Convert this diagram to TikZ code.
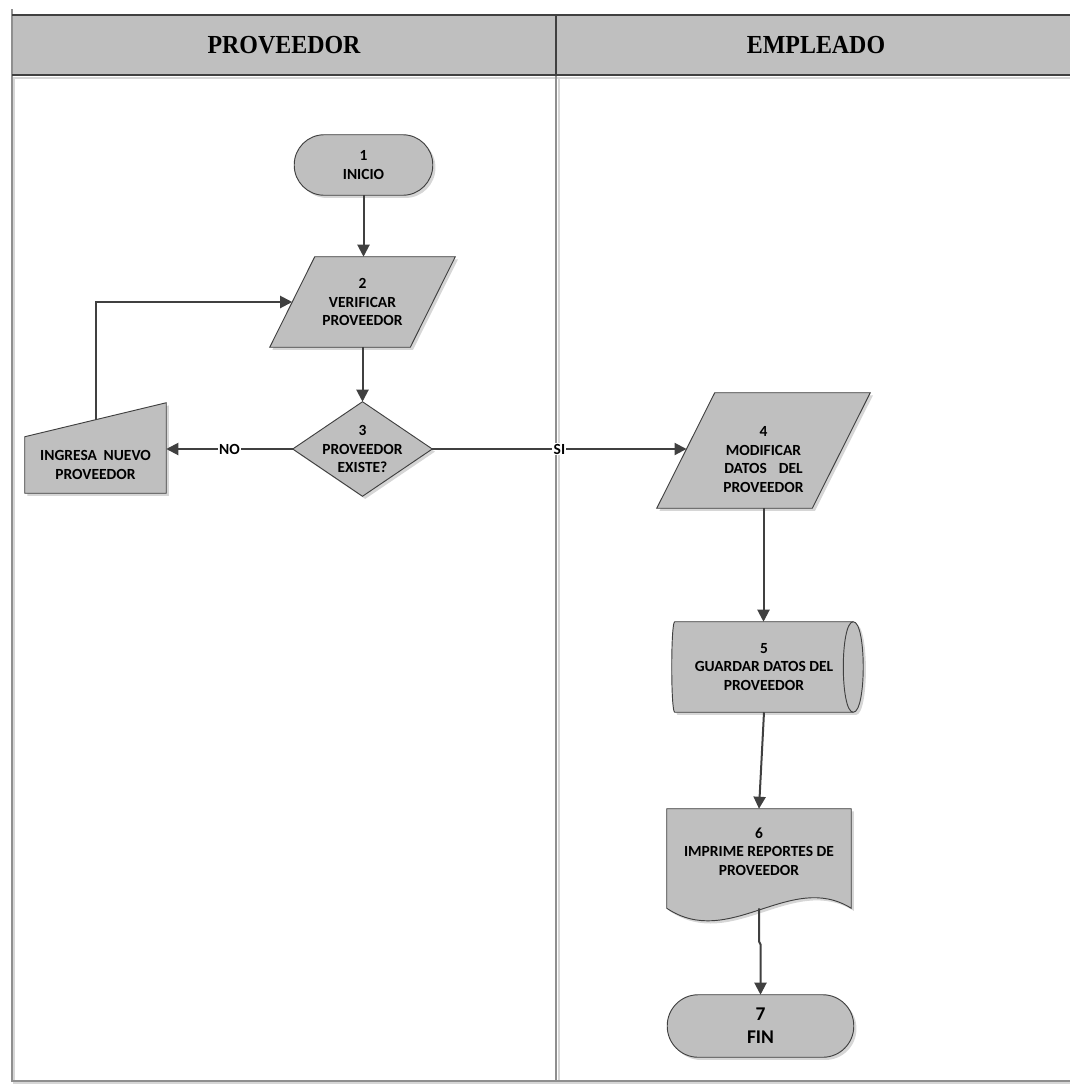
\documentclass[tikz,border=0pt]{standalone}
\usepackage{fontspec}
\setmainfont{Carlito}
\newfontfamily\headfont[FakeStretch=0.92]{Liberation Serif}
\usetikzlibrary{arrows.meta,calc,shadows}

\definecolor{shapefill}{HTML}{BFBFBF}
\definecolor{edge}{HTML}{404040}
\definecolor{dropgray}{HTML}{D6D6D6}
\definecolor{rule}{HTML}{8F8F8F}

\pgfdeclarelayer{shapes}
\pgfsetlayers{shapes,main}

% one drawing unit = one pixel of the 1070 x 1090 sheet
\newcommand\pu{0.75pt}

\begin{document}
\begin{tikzpicture}[x=0.75pt, y=-0.75pt,
  box/.style={inner sep=0pt, align=center, text=black,
    font=\fontsize{11.6}{13.9}\selectfont\bfseries},
  bigbox/.style={box, font=\fontsize{14.6}{17.3}\selectfont\bfseries},
  outline/.style={fill=shapefill, draw=edge, line width=0.7pt,
    drop shadow={shadow xshift=2pt, shadow yshift=-2pt, opacity=1, fill=dropgray}},
  flow/.style={draw=edge, line width=1.5pt, -{Triangle[length=9pt,width=9pt]}},
  tag/.style={fill=white, inner sep=1pt, text=black,
    font=\fontsize{11.6}{13.9}\selectfont\bfseries},
  lanehead/.style={text=black, font=\headfont\fontsize{19.5}{23}\selectfont\bfseries}
]
\useasboundingbox (0,0) rectangle (1070,1090);

% ---- swimlane frame ----
\begin{pgfonlayer}{shapes}
\fill[shapefill] (12,15) rectangle (1075,75);
\draw[dropgray, line width=1.5pt] (12,77.5) -- (1075,77.5);
\draw[dropgray, line width=1.5pt] (558.5,77) -- (558.5,1083);
\draw[dropgray, line width=1.5pt] (14,77) -- (14,1083) -- (1075,1083);
\draw[rule, line width=1.5pt] (556,75) -- (556,1081);
\draw[rule, line width=1.5pt] (12,9) -- (12,1081) -- (1075,1081);
\draw[edge, line width=1.5pt] (12,15) -- (1075,15);
\draw[edge, line width=1.5pt] (12,75) -- (1075,75);
\draw[edge, line width=1pt] (556,15) -- (556,75);
\end{pgfonlayer}

\node[lanehead] (laneA) at (284,45) {PROVEEDOR};
\node[lanehead] (laneB) at (816,45) {EMPLEADO};

% ---- nodes (bounding boxes carry the text) ----
\node[box, minimum width=138*\pu, minimum height=60*\pu] (n1) at (363.5,165) {1\\INICIO};
\node[box, minimum width=185*\pu, minimum height=90*\pu] (n2) at (362.5,302) {2\\VERIFICAR\\PROVEEDOR};
\node[box, minimum width=139*\pu, minimum height=94*\pu] (n3) at (362.5,449) {3\\PROVEEDOR\\EXISTE?};
\node[box, minimum width=141*\pu, minimum height=56*\pu] (n5) at (95.5,465) {INGRESA\hspace{5pt}NUEVO\\PROVEEDOR};
\node[minimum width=213*\pu, minimum height=115*\pu, inner sep=0pt,
  label={[box, yshift=-6.75pt]center:{4\\MODIFICAR\\DATOS\hspace{9pt}DEL\\PROVEEDOR}}] (n4) at (763.5,450.5) {};
\node[box, minimum width=178*\pu, minimum height=90*\pu] (ns) at (764,667) {5\\GUARDAR DATOS DEL\\PROVEEDOR};
\node[minimum width=184*\pu, minimum height=99*\pu, inner sep=0pt,
  label={[box, yshift=5.25pt]center:{6\\IMPRIME REPORTES DE\\PROVEEDOR}}] (n6) at (759,858.5) {};
\node[bigbox, minimum width=186*\pu, minimum height=62*\pu] (n7) at (760.5,1026) {7\\FIN};

% ---- shape outlines, on the layer under the text ----
\begin{pgfonlayer}{shapes}
\path[outline, rounded corners=22.5pt] (n1.north west) rectangle (n1.south east);
\path[outline] ($(n2.north west)+(45,0)$) -- (n2.north east)
  -- ($(n2.south east)+(-45,0)$) -- (n2.south west) -- cycle;
\path[outline] (n3.north) -- (n3.east) -- (n3.south) -- (n3.west) -- cycle;
\path[outline] (n5.north west) -- ($(n5.north east)+(0,-34)$)
  -- (n5.south east) -- (n5.south west) -- cycle;
\path[outline] ($(n4.north west)+(58,0)$) -- (n4.north east)
  -- ($(n4.south east)+(-58,0)$) -- (n4.south west) -- cycle;
\path[outline] (ns.north west) -- (ns.north east)
  .. controls ($(ns.north east)+(13.3,0)$) and ($(ns.south east)+(13.3,0)$) .. (ns.south east)
  -- (ns.south west)
  .. controls ($(ns.south west)+(-4,0)$) and ($(ns.north west)+(-4,0)$) .. (ns.north west) -- cycle;
\draw[edge, line width=0.7pt] (ns.north east)
  .. controls ($(ns.north east)+(-13.3,0)$) and ($(ns.south east)+(-13.3,0)$) .. (ns.south east);
\path[outline] (n6.north west) -- (n6.north east) -- (n6.south east)
  .. controls ($(n6.south east)+(-61,-38)$) and ($(n6.south west)+(63,42)$) .. (n6.south west) -- cycle;
\path[outline, rounded corners=23.25pt] (n7.north west) rectangle (n7.south east);
\end{pgfonlayer}

% ---- connectors ----
\draw[flow] (n1.south) -- (n1.south |- n2.north);
\draw[flow] (n2.south) -- (n3.north);
\draw[flow] (n3.west) -- (n3.west -| n5.east) node[tag, midway] {NO};
\draw[flow] (n3.east) -- ($(n3.east -| n4.west)+(29.8,0)$) node[tag, midway] {SI};
\draw[flow] ($(n5.north)+(0,-17)$) |- ($(n2.west)+(22.5,0)$);
\draw[flow] (n4.south) -- (n4.south |- ns.north);
\draw[flow] (ns.south) -- (n6.north);
\draw[flow] (n6.south) -- ++(0,33) -- ++(1.5,3) -- (n7.north);
\end{tikzpicture}
\end{document}
